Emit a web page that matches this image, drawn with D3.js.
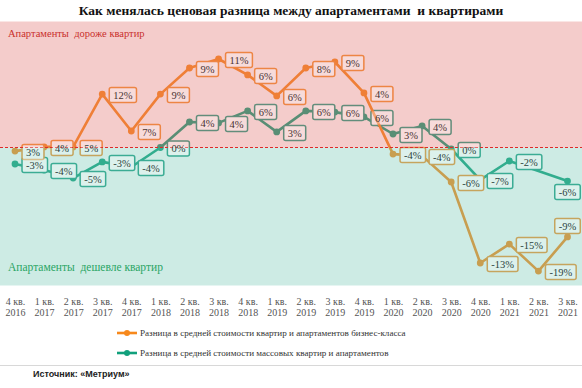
<!DOCTYPE html>
<html><head><meta charset="utf-8">
<script src="https://cdn.jsdelivr.net/npm/d3@7"></script>
<style>body{margin:0;background:#fff}svg{display:block}</style>
</head><body><svg id="c" width="582" height="388"></svg>
<script>
const titleText = "Как менялась ценовая разница между апартаментами  и квартирами";
const quarters = ["4 кв.","1 кв.","2 кв.","3 кв.","4 кв.","1 кв.","2 кв.","3 кв.","4 кв.","1 кв.","2 кв.","3 кв.","4 кв.","1 кв.","2 кв.","3 кв.","4 кв.","1 кв.","2 кв.","3 кв."];
const years = ["2016","2017","2017","2017","2017","2018","2018","2018","2018","2019","2019","2019","2019","2020","2020","2020","2020","2021","2021","2021"];
// plotted positions (as drawn in the source picture) and the printed labels
const businessValues = [-0.6, 0.1, 0.1, 8.9, 2.75, 8.9, 13.25, 14.75, 12.1, 8.6, 13.25, 14.25, 9.1, -1.1, -1.4, -5.75, -19.25, -16.1, -20.6, -14.9];
const businessLabels = ["3%","4%","5%","12%","7%","9%","9%","11%","6%","6%","8%","9%","4%","-4%","-4%","-6%","-13%","-15%","-19%","-9%"];
const massValues = [-2.75, -3.75, -5.1, -2.4, -3.25, 0, 4.25, 4.1, 6.1, 2.6, 6.1, 5.9, 5.1, 2.25, 3.6, -0.25, -5.4, -2.25, null, -5.6];
const massLabels = ["-3%","-4%","-5%","-3%","-4%","0%","4%","4%","6%","3%","6%","6%","6%","3%","4%","0%","-7%","-2%","","-6%"];
const legendLabels = ["Разница в средней стоимости квартир и апартаментов бизнес-класса","Разница в средней стоимости массовых квартир и апартаментов"];
const bandLabels = ["Апартаменты  дороже квартир","Апартаменты  дешевле квартир"];
const bandDomain = [-23, 0, 21];
const sourceText = "Источник: «Метриум»";

const SERIF = "'Liberation Serif','Times New Roman',serif";
const ORANGE = "#f7891c", GREEN = "#11a07c";
const svg = d3.select("#c");

const x = d3.scalePoint().domain(d3.range(quarters.length)).range([15, 567.5]);
const y = d3.scaleLinear().domain([bandDomain[0], bandDomain[2]]).range([285.5, 21.5]);

// title
svg.append("text").attr("x", 291).attr("y", 15).attr("text-anchor", "middle")
  .style("white-space", "pre").attr("font-family", SERIF).attr("font-weight", "bold")
  .attr("font-size", 13.5).attr("fill", "#111").text(titleText);

const plot = svg.append("g");
const boxes = [];

function series(values, labels, color, stroke, lastDy) {
  const pts = values.map((v, i) => ({i, v, l: labels[i]})).filter(d => d.v != null);
  plot.append("path").datum(pts).attr("fill", "none").attr("stroke", color)
    .attr("stroke-width", 2.6).attr("stroke-linejoin", "round")
    .attr("d", d3.line().x(d => x(d.i)).y(d => y(d.v)));
  plot.selectAll(null).data(pts).enter().append("circle")
    .attr("cx", d => x(d.i)).attr("cy", d => y(d.v)).attr("r", 3.4).attr("fill", color);
  const last = pts[pts.length - 1].i;
  pts.forEach(d => {
    const g = plot.append("g");
    const r = g.append("rect");
    const t = g.append("text").attr("font-family", SERIF).attr("font-size", 10.5)
      .attr("text-anchor", "middle").attr("dy", "0.35em").attr("fill", "none").text(d.l);
    const w = t.node().getComputedTextLength() + 8, h = 15;
    let cx, cy;
    if (d.i === last) { cx = x(d.i); cy = y(d.v) + lastDy; }
    else { cx = x(d.i) + 7 + w / 2; cy = y(d.v) + 1; }
    t.remove();
    r.attr("x", cx - w / 2).attr("y", cy - h / 2).attr("width", w).attr("height", h)
      .attr("rx", 2).attr("fill", "#fff").attr("stroke", stroke).attr("stroke-width", 1.5);
    boxes.push({cx, cy, w, h, l: d.l});
  });
}
series(massValues, massLabels, GREEN, "#1f9f84", 11);
series(businessValues, businessLabels, ORANGE, "#f59331", -11);

// translucent bands over the plot
svg.append("rect").attr("x", 0).attr("width", 582)
  .attr("y", y(bandDomain[2])).attr("height", y(bandDomain[1]) - y(bandDomain[2]))
  .attr("fill", "rgb(224,109,106)").attr("fill-opacity", 0.35);
svg.append("rect").attr("x", 0).attr("width", 582)
  .attr("y", y(bandDomain[1])).attr("height", y(bandDomain[0]) - y(bandDomain[1]))
  .attr("fill", "rgb(112,198,178)").attr("fill-opacity", 0.35);

svg.append("line").attr("x1", 0).attr("x2", 582).attr("y1", y(0)).attr("y2", y(0))
  .attr("stroke", "#e02a2a").attr("stroke-width", 1).attr("stroke-dasharray", "3,2");

// label fills lightened and texts on top
const lab = svg.append("g");
boxes.forEach(b => {
  lab.append("rect").attr("x", b.cx - b.w / 2 + 1).attr("y", b.cy - b.h / 2 + 1)
    .attr("width", b.w - 2).attr("height", b.h - 2).attr("fill", "#fff").attr("fill-opacity", 0.3);
  lab.append("text").attr("x", b.cx).attr("y", b.cy).attr("dy", "0.35em")
    .attr("text-anchor", "middle").attr("font-family", SERIF).attr("font-size", 10.5)
    .attr("fill", b.cy < y(0) ? "#4a3333" : "#2c4440").text(b.l);
});

svg.append("text").attr("x", 8).attr("y", 37).style("white-space", "pre")
  .attr("font-family", SERIF).attr("font-size", 10.5).attr("fill", "#c9302c").text(bandLabels[0]);
svg.append("text").attr("x", 8).attr("y", 271).style("white-space", "pre")
  .attr("font-family", SERIF).attr("font-size", 11.5).attr("fill", "#2aa565").text(bandLabels[1]);

// x axis
const ax = svg.append("g").attr("transform", "translate(0,295)")
  .call(d3.axisBottom(x).tickSize(0).tickPadding(3).tickFormat(i => quarters[i]));
ax.select(".domain").remove();
ax.selectAll(".tick text").each(function(i) {
  const t = d3.select(this).text(null).attr("font-family", SERIF).attr("font-size", 10).attr("fill", "#555");
  t.append("tspan").attr("x", 0).attr("dy", "0.71em").text(quarters[i]);
  t.append("tspan").attr("x", 0).attr("dy", "1.1em").text(years[i]);
});

// legend
[[ORANGE, 333], [GREEN, 353]].forEach(([c, ly], k) => {
  const g = svg.append("g").attr("transform", `translate(0,${ly})`);
  g.append("line").attr("x1", 117).attr("x2", 137).attr("stroke", c).attr("stroke-width", 2.6);
  g.append("circle").attr("cx", 127).attr("r", 3).attr("fill", c);
  g.append("text").attr("x", 140).attr("dy", "0.35em").attr("font-family", SERIF)
    .attr("font-size", 9.1).attr("fill", "#333").text(legendLabels[k]);
});

svg.append("line").attr("x1", 0).attr("x2", 582).attr("y1", 365.5).attr("y2", 365.5)
  .attr("stroke", "#d8d8d8").attr("stroke-width", 1);
svg.append("text").attr("x", 33).attr("y", 377).attr("font-family", "'Liberation Sans',Arial,sans-serif")
  .attr("font-size", 9).attr("font-weight", "bold").attr("fill", "#222").text(sourceText);
</script></body></html>
